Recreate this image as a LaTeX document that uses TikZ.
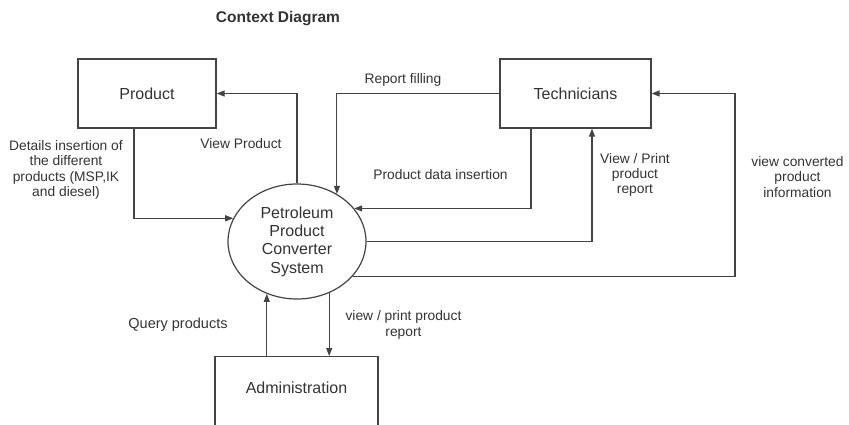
\documentclass[tikz,border=0pt]{standalone}
\usepackage{fontspec}
\setmainfont{Liberation Sans}
\usetikzlibrary{arrows.meta,shapes.geometric}
\definecolor{ink}{HTML}{333333}
\definecolor{linec}{HTML}{444444}
\begin{document}
\begin{tikzpicture}[x=1pt,y=-1pt,
  box/.style={draw=linec,line width=1.2pt,rectangle,minimum width=138pt,minimum height=69pt,inner sep=0pt,text=ink,font=\fontsize{16}{18.5}\selectfont},
  proc/.style={draw=linec,line width=1.2pt,ellipse,minimum width=138pt,minimum height=115pt,inner sep=0pt,align=center,text=ink,font=\fontsize{16}{18.4}\selectfont},
  flow/.style={draw=linec,line width=1.1pt,-{Triangle[length=8pt,width=6pt]}},
  lab/.style={text=ink,align=center,font=\fontsize{13.8}{15.4}\selectfont,inner sep=0pt}]
\useasboundingbox (0,0) rectangle (849,424);
\clip (0,0) rectangle (849,424);
\node[text=ink,font=\fontsize{15.5}{18}\selectfont\bfseries] (title) at (278,19) {Context Diagram};
\node[box] (product) at (147,93.5) {Product};
\node[box,minimum width=151pt] (tech) at (575.5,93.5) {Technicians};
\node[box,minimum width=163pt,minimum height=90pt,anchor=north] (admin) at (296.5,356) {};
\node[text=ink,font=\fontsize{16}{18.5}\selectfont,inner sep=0pt] (admintext) at (296.5,388) {Administration};
\node[proc] (sys) at (297,241.5) {Petroleum\\Product\\Converter\\System};
\coordinate (vc) at (735,93.5);
% connectors
\draw[flow] ([xshift=-13pt]product.south) |- (sys.160.5);
\draw[flow] (sys.north) |- (product.east);
\draw[flow] (tech.west) -| (sys.50.6);
\draw[flow] ([xshift=-44.5pt]tech.south) |- (sys.30.8);
\draw[flow] (sys.east) -| ([xshift=16.5pt]tech.south);
\draw[flow] (sys.-32) -| (vc) -- (tech.east);
\draw[flow] (sys.-120.1 |- admin.north) -- (sys.-120.1);
\draw[flow] (sys.-58.9) -- (sys.-58.9 |- admin.north);
% labels
\node[lab] (l1) at (66,170) {Details insertion of\\the different\\products (MSP,IK\\and diesel)};
\node[lab] (l2) at (241,144) {View Product};
\node[lab] (l3) at (403,80) {Report filling};
\node[lab] (l4) at (440.5,175) {Product data insertion};
\node[lab] (l5) at (635,175) {View / Print\\product\\report};
\node[lab] (l6) at (797.5,177) {view converted\\product\\information};
\node[lab,font=\fontsize{14.5}{16}\selectfont] (l7) at (178,325) {Query products};
\node[lab] (l8) at (403.5,325) {view / print product\\report};
\end{tikzpicture}
\end{document}
